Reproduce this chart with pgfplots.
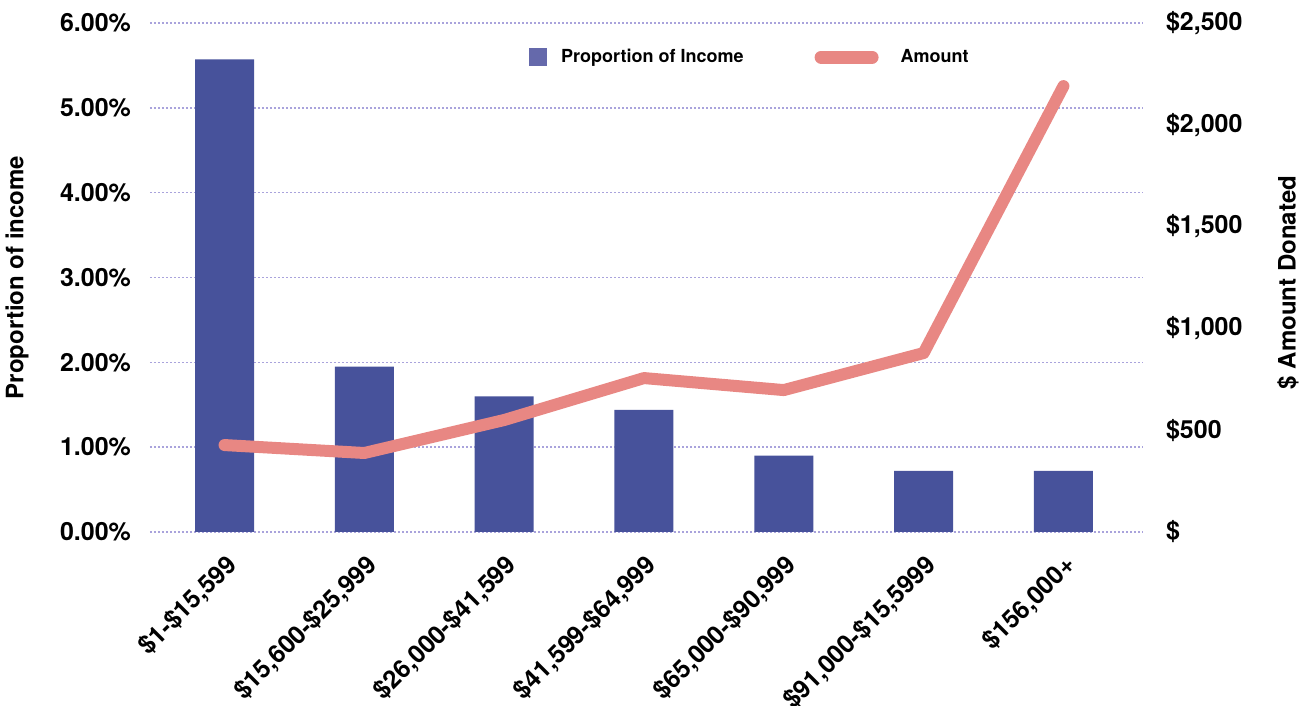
\documentclass[border=0pt]{standalone}
\usepackage{fontspec}
\setmainfont{TeX Gyre Heros}
\usepackage{pgfplots}
\pgfplotsset{compat=1.18}
\definecolor{barc}{HTML}{47529B}
\definecolor{legsq}{HTML}{6569AB}
\definecolor{linec}{HTML}{E88783}
\definecolor{gridc}{HTML}{A9A3DC}
\begin{document}
\begin{tikzpicture}[font=\bfseries\fontsize{12.5}{15}\selectfont]
\useasboundingbox (0,0) rectangle (653pt,353pt);
\begin{axis}[
  at={(75pt,87pt)}, anchor=south west, scale only axis,
  width=496.5pt, height=254.5pt,
  xmin=-0.533, xmax=6.569, ymin=0, ymax=6,
  axis line style={draw=none}, major tick length=0pt,
  xtick={0,...,6},
  xticklabels={{\$1-\$15,599},{\$15,600-\$25,999},{\$26,000-\$41,599},{\$41,599-\$64,999},{\$65,000-\$90,999},{\$91,000-\$15,5999},{\$156,000+}},
  ytick={0,...,6},
  yticklabels={{0.00\%},{1.00\%},{2.00\%},{3.00\%},{4.00\%},{5.00\%},{6.00\%}},
  ymajorgrids,
  grid style={gridc, line width=0.8pt, dash pattern=on 0.8pt off 1.2pt},
  x tick label style={xshift=0pt, yshift=-5.5pt, rotate=45, anchor=north east},
  y tick label style={xshift=-6pt},
  ylabel={Proportion of income},
  ylabel style={at={(axis description cs:-0.134,0.5)}, anchor=center,
    font=\bfseries\fontsize{12}{14}\selectfont},
]
\addplot[ybar, bar width=0.422, fill=barc, draw=none] coordinates {
  (0,5.57) (1,1.95) (2,1.60) (3,1.44) (4,0.90) (5,0.72) (6,0.72)};
\end{axis}
\begin{axis}[
  at={(75pt,87pt)}, anchor=south west, scale only axis,
  width=496.5pt, height=254.5pt,
  xmin=-0.533, xmax=6.569, ymin=0, ymax=2500,
  axis x line=none, axis y line*=right,
  axis line style={draw=none}, major tick length=0pt,
  ytick={0,500,1000,1500,2000,2500},
  yticklabels={{\$},{\$500},{\$1,000},{\$1,500},{\$2,000},{\$2,500}},
  y tick label style={anchor=west, xshift=8pt},
  ylabel={\$ Amount Donated},
  ylabel style={at={(axis description cs:1.146,0.49)}, anchor=center,
    font=\bfseries\fontsize{12}{14}\selectfont},
  clip=false,
  legend columns=2,
  legend style={at={(axis description cs:0.3817,0.933)}, anchor=west,
    draw=none, fill=none, inner sep=0pt,
    font=\bfseries\fontsize{9}{11}\selectfont,
    /tikz/every even column/.append style={column sep=30.5pt}},
]
\addlegendimage{legend image code/.code={\fill[legsq] (0pt,-4.25pt) rectangle (8.5pt,4.25pt); \path (13.5pt,0pt);}}
\addlegendentry{Proportion of Income}
\addplot[linec, line width=6pt, line join=round, line cap=round,
  legend image code/.code={\draw[linec, line width=6.5pt, line cap=round] (3.25pt,0pt) -- (28.75pt,0pt); \path (0pt,0pt) (38pt,0pt);}]
  coordinates {(0,427) (1,388) (2,550) (3,756) (4,697) (5,879) (6,2190)};
\addlegendentry{Amount}
\end{axis}
\end{tikzpicture}
\end{document}
